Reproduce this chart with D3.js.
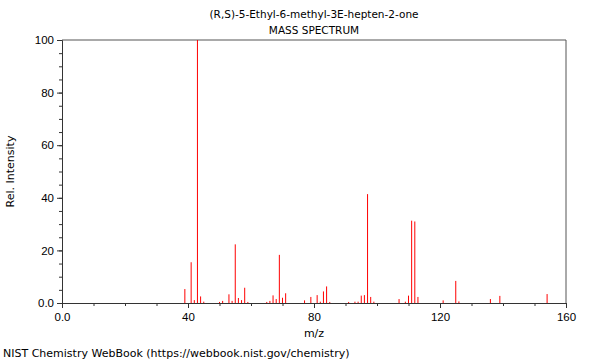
<!DOCTYPE html>
<html>
<head>
<meta charset="utf-8">
<script src="https://cdn.jsdelivr.net/npm/d3@7"></script>
<style>
  body { margin: 0; background: #fff; }
  svg { font-family: "DejaVu Sans", sans-serif; }
</style>
</head>
<body>
<svg id="chart" width="600" height="360"></svg>
<script>
// peaks
var mz = [39, 41, 42, 43, 44, 45, 50, 51, 53, 54, 55, 56, 57, 58, 59,
  65, 66, 67, 68, 69, 70, 71, 77, 79, 81, 82, 83, 84, 85,
  91, 93, 94, 95, 96, 97, 98, 99, 107, 109, 110, 111, 112, 113,
  121, 125, 126, 136, 139, 154];
var intensity = [5.3, 15.5, 1.1, 100, 2.5, 0.5, 0.4, 0.8, 3.3, 0.8, 22.3, 1.9, 1.1, 5.8, 0.4,
  0.4, 0.8, 2.9, 1.5, 18.3, 2.0, 3.7, 1.0, 2.3, 3.0, 0.5, 4.4, 6.3, 0.4,
  0.4, 0.5, 0.5, 2.8, 3.0, 41.4, 2.3, 0.5, 1.5, 0.5, 2.8, 31.3, 31.0, 2.3,
  1.0, 8.4, 0.6, 1.5, 2.7, 3.4];
var xTicks = [0, 40, 80, 120, 160];
var yTicks = [0, 20, 40, 60, 80, 100];

var margin = {top: 40, right: 34, bottom: 57, left: 62},
    width = 600 - margin.left - margin.right,
    height = 360 - margin.top - margin.bottom;

var svg = d3.select("#chart");
var g = svg.append("g")
  .attr("transform", "translate(" + margin.left + "," + margin.top + ")");

var x = d3.scaleLinear().domain([0, 160]).range([0, width]);
var y = d3.scaleLinear().domain([0, 100]).range([height, 0]);

// frame (top + right)
g.append("path")
  .attr("d", "M0,0H" + width + "V" + height)
  .attr("fill", "none")
  .attr("stroke", "#555")
  .attr("stroke-width", 1);

// peaks
g.selectAll("line.peak")
  .data(mz)
  .enter()
  .append("line")
  .attr("class", "peak")
  .attr("x1", function(d){ return x(d); })
  .attr("x2", function(d){ return x(d); })
  .attr("y1", y(0))
  .attr("y2", function(d, i){ return y(intensity[i]); })
  .attr("stroke", "#f00")
  .attr("stroke-width", 1);

function fmt(d) { return d === 0 ? "0.0" : String(d); }

// minor ticks
g.append("g")
  .attr("transform", "translate(0," + height + ")")
  .call(d3.axisBottom(x).tickValues(d3.range(0, 161, 10)).tickSize(3).tickFormat(""))
  .call(function(a){ a.select(".domain").remove(); });
g.append("g")
  .call(d3.axisLeft(y).tickValues(d3.range(0, 101, 5)).tickSize(3).tickFormat(""))
  .call(function(a){ a.select(".domain").remove(); });

// major axes
var xAxis = g.append("g")
  .attr("transform", "translate(0," + height + ")")
  .call(d3.axisBottom(x).tickValues(xTicks).tickSize(5).tickPadding(5).tickFormat(fmt));
var yAxis = g.append("g")
  .call(d3.axisLeft(y).tickValues(yTicks).tickSize(5).tickPadding(3).tickFormat(fmt));

[xAxis, yAxis].forEach(function(a){
  a.selectAll("text").style("font-size", "11.5px").attr("fill", "#000");
  a.selectAll("line").attr("stroke", "#333");
  a.select(".domain").attr("stroke", "#333");
});
g.selectAll(".tick line").attr("stroke", "#333");

// titles
svg.append("text")
  .attr("x", 314).attr("y", 18)
  .attr("text-anchor", "middle")
  .style("font-size", "10.5px")
  .text("(R,S)-5-Ethyl-6-methyl-3E-hepten-2-one");
svg.append("text")
  .attr("x", 314).attr("y", 34)
  .attr("text-anchor", "middle")
  .style("font-size", "10.5px")
  .text("MASS SPECTRUM");

svg.append("text")
  .attr("x", 314).attr("y", 337)
  .attr("text-anchor", "middle")
  .style("font-size", "11px")
  .text("m/z");

svg.append("text")
  .attr("transform", "translate(14," + (margin.top + height / 2) + ") rotate(-90)")
  .attr("text-anchor", "middle")
  .style("font-size", "11px")
  .text("Rel. Intensity");

svg.append("text")
  .attr("x", 3).attr("y", 357)
  .style("font-size", "11px")
  .text("NIST Chemistry WebBook (https://webbook.nist.gov/chemistry)");
</script>
</body>
</html>
